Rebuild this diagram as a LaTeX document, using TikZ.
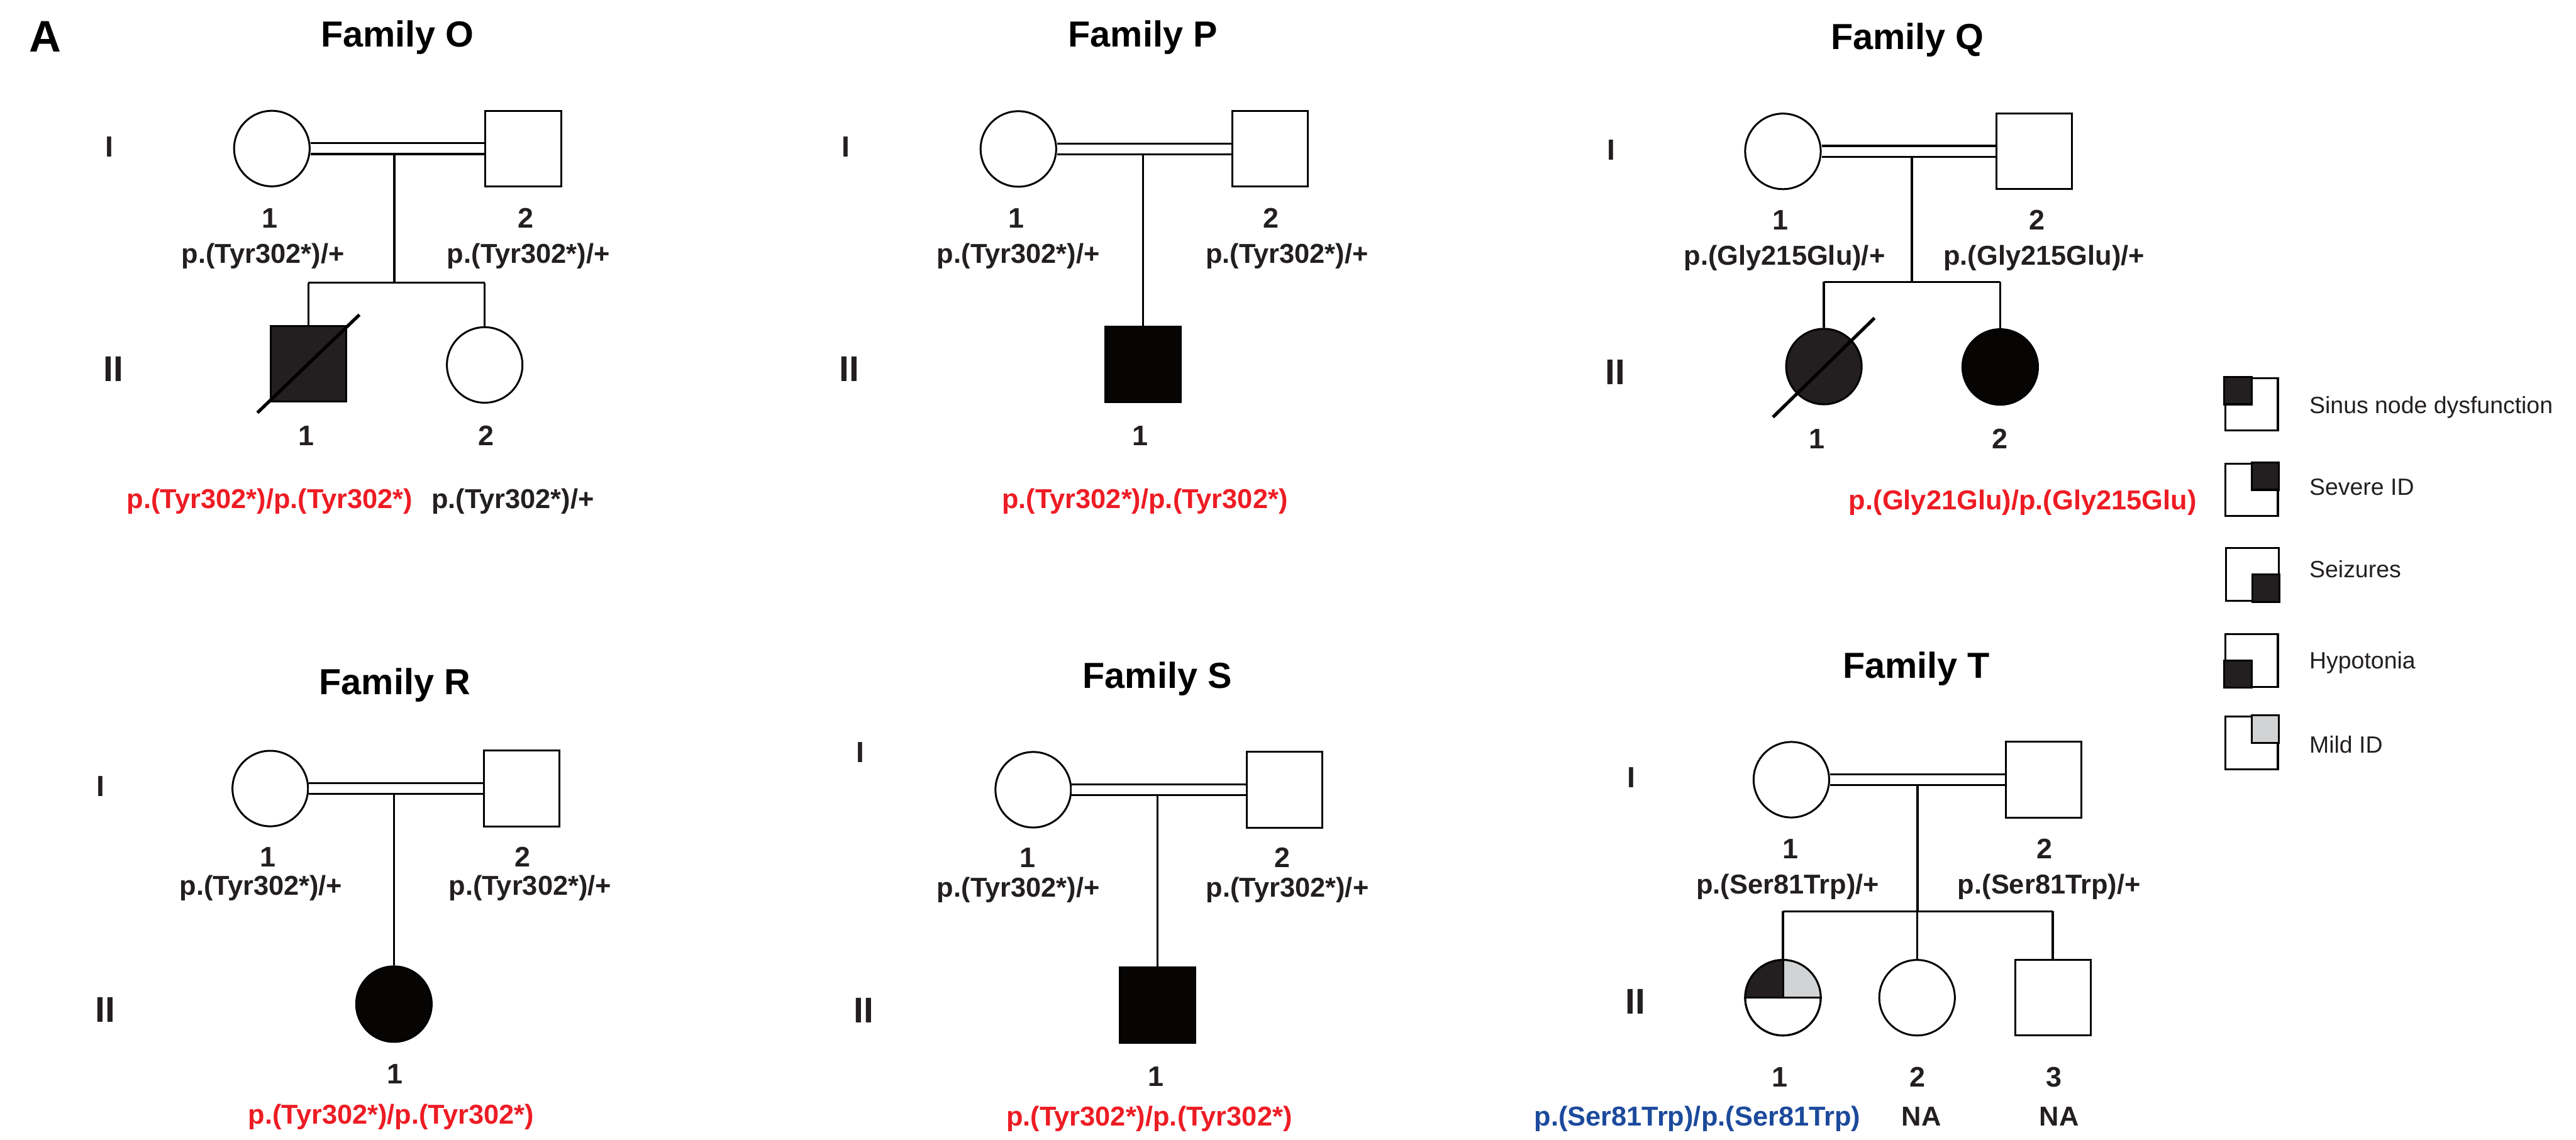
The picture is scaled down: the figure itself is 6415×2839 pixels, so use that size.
\documentclass[tikz,border=0pt]{standalone}
\usepackage{fontspec}
\setmainfont{Liberation Sans}
\usetikzlibrary{calc}
\definecolor{ink}{HTML}{231F20}
\definecolor{darkfill}{HTML}{231F20}
\definecolor{solid}{HTML}{060504}
\definecolor{mildgray}{HTML}{D1D3D4}
\definecolor{varred}{HTML}{ED1C24}
\definecolor{varblue}{HTML}{1C4A9C}

\begin{document}
\begin{tikzpicture}[x=0.006cm, y=-0.006cm,
  sym/.style={draw=black, line width=0.8pt, fill=white, inner sep=0pt, minimum size=1.128cm},
  male/.style={sym, rectangle},
  female/.style={sym, circle},
  affsolid/.style={fill=solid},
  affdark/.style={fill=darkfill},
  conn/.style={draw=black, line width=0.9pt},
  mate/.style={conn, double=white, double distance=3.7pt},
  slash/.style={draw=black, line width=1.4pt},
  idx/.style={font=\bfseries\fontsize{12}{14}\selectfont, text=ink, anchor=base, inner sep=0pt},
  geno/.style={font=\bfseries\fontsize{11.6}{14}\selectfont, text=ink, anchor=base, inner sep=0pt},
  hom/.style={geno, text=varred},
  homblue/.style={geno, text=varblue},
  famtitle/.style={font=\bfseries\fontsize{15.4}{18}\selectfont, text=black, anchor=base, inner sep=0pt},
  genI/.style={font=\bfseries\fontsize{12.4}{15}\selectfont, text=ink, anchor=base, inner sep=0pt},
  genII/.style={font=\bfseries\fontsize{15.2}{18}\selectfont, text=ink, anchor=base, inner sep=0pt},
  panel/.style={font=\bfseries\fontsize{18.8}{22}\selectfont, text=black, anchor=base, inner sep=0pt},
  key/.style={rectangle, draw=black, line width=0.85pt, fill=white, minimum size=0.786cm, inner sep=0pt},
  keyq/.style={draw=black, line width=0.85pt},
  keytext/.style={font=\fontsize{10}{12}\selectfont, text=ink, anchor=base west, inner sep=0pt}
]
\useasboundingbox (0,0) rectangle (6415,2839);

\node[panel] (lbA) at (113,129) {A};

% ---------------- Family O ----------------
\node[famtitle] (tO) at (990,117) {Family O};
\node[genI]  (gOI)  at (273,390) {I};
\node[genII] (gOII) at (283,950) {II};
\node[female] (o1) at (677,370) {};
\node[male]   (o2) at (1303,370) {};
\node[male, affdark] (o3) at (768,906) {};
\node[female] (o4) at (1207,909) {};
\coordinate (om) at (982,370);
\coordinate (os) at (982,704);
\draw[conn] (om) -- (os);
\draw[mate] (o1) -- (o2);
\draw[conn] (o3 |- os) -- (o4 |- os);
\draw[conn] (o3 |- os) -- (o3.north);
\draw[conn] (o4 |- os) -- (o4.north);
\draw[slash] ($(o3.center)+(-127,122)$) -- ($(o3.center)+(127,-122)$);
\node[idx] (o1n) at (672,567) {1};
\node[idx] (o2n) at (1309,567) {2};
\node[geno] (o1g) at (655,656) {p.(Tyr302*)/+};
\node[geno] (o2g) at (1316,656) {p.(Tyr302*)/+};
\node[idx] (o3n) at (762,1110) {1};
\node[idx] (o4n) at (1210,1110) {2};
\node[hom] (o3g) at (672,1266) {p.(Tyr302*)/p.(Tyr302*)};
\node[geno] (o4g) at (1277,1266) {p.(Tyr302*)/+};

% ---------------- Family P ----------------
\node[famtitle] (tP) at (2846,117) {Family P};
\node[genI]  (gPI)  at (2107,390) {I};
\node[genII] (gPII) at (2115,950) {II};
\node[female] (p1) at (2536,371) {};
\node[male]   (p2) at (3163,371) {};
\node[male, affsolid] (p3) at (2846,907) {};
\coordinate (pm) at (2846,371);
\draw[conn] (pm) -- (p3.north);
\draw[mate] (p1) -- (p2);
\node[idx] (p1n) at (2531,567) {1};
\node[idx] (p2n) at (3165,567) {2};
\node[geno] (p1g) at (2536,656) {p.(Tyr302*)/+};
\node[geno] (p2g) at (3205,656) {p.(Tyr302*)/+};
\node[idx] (p3n) at (2840,1110) {1};
\node[hom] (p3g) at (2851,1266) {p.(Tyr302*)/p.(Tyr302*)};

% ---------------- Family Q ----------------
\node[famtitle] (tQ) at (4750,123) {Family Q};
\node[genI]  (gQI)  at (4012,398) {I};
\node[genII] (gQII) at (4022,958) {II};
\node[female] (q1) at (4440,377) {};
\node[male]   (q2) at (5066,377) {};
\node[female, affdark]  (q3) at (4542,913) {};
\node[female, affsolid] (q4) at (4981,914) {};
\coordinate (qm) at (4761,377);
\coordinate (qs) at (4761,702);
\draw[conn] (qm) -- (qs);
\draw[mate] (q1) -- (q2);
\draw[conn] (q3 |- qs) -- (q4 |- qs);
\draw[conn] (q3 |- qs) -- (q3.north);
\draw[conn] (q4 |- qs) -- (q4.north);
\draw[slash] ($(q3.center)+(-127,126)$) -- ($(q3.center)+(126,-121)$);
\node[idx] (q1n) at (4434,573) {1};
\node[idx] (q2n) at (5073,573) {2};
\node[geno] (q1g) at (4444,660) {p.(Gly215Glu)/+};
\node[geno] (q2g) at (5090,660) {p.(Gly215Glu)/+};
\node[idx] (q3n) at (4525,1117) {1};
\node[idx] (q4n) at (4981,1117) {2};
\node[hom] (q4g) at (5037,1269) {p.(Gly21Glu)/p.(Gly215Glu)};

% ---------------- Family R ----------------
\node[famtitle] (tR) at (983,1730) {Family R};
\node[genI]  (gRI)  at (250,1984) {I};
\node[genII] (gRII) at (262,2546) {II};
\node[female] (r1) at (673,1964) {};
\node[male]   (r2) at (1299,1964) {};
\node[female, affsolid] (r3) at (981,2501) {};
\coordinate (rm) at (981,1964);
\draw[conn] (rm) -- (r3.north);
\draw[mate] (r1) -- (r2);
\node[idx] (r1n) at (667,2159) {1};
\node[idx] (r2n) at (1302,2159) {2};
\node[geno] (r1g) at (650,2230) {p.(Tyr302*)/+};
\node[geno] (r2g) at (1320,2230) {p.(Tyr302*)/+};
\node[idx] (r3n) at (983,2700) {1};
\node[hom] (r3g) at (974,2800) {p.(Tyr302*)/p.(Tyr302*)};

% ---------------- Family S ----------------
\node[famtitle] (tS) at (2882,1714) {Family S};
\node[genI]  (gSI)  at (2142,1899) {I};
\node[genII] (gSII) at (2151,2547) {II};
\node[female] (s1) at (2573,1967) {};
\node[male]   (s2) at (3199,1967) {};
\node[male, affsolid] (s3) at (2882,2503) {};
\coordinate (sm) at (2882,1967);
\draw[conn] (sm) -- (s3.north);
\draw[mate] (s1) -- (s2);
\node[idx] (s1n) at (2559,2161) {1};
\node[idx] (s2n) at (3193,2161) {2};
\node[geno] (s1g) at (2536,2234) {p.(Tyr302*)/+};
\node[geno] (s2g) at (3206,2234) {p.(Tyr302*)/+};
\node[idx] (s3n) at (2879,2705) {1};
\node[hom] (s3g) at (2862,2804) {p.(Tyr302*)/p.(Tyr302*)};

% ---------------- Family T ----------------
\node[famtitle] (tT) at (4772,1689) {Family T};
\node[genI]  (gTI)  at (4062,1961) {I};
\node[genII] (gTII) at (4073,2525) {II};
\node[female] (t1) at (4461,1942) {};
\node[male]   (t2) at (5089,1942) {};
\node[female] (t3) at (4440,2485) {};
\node[female] (t4) at (4774,2485) {};
\node[male]   (t5) at (5112,2485) {};
% quarter shading of II-1
\begin{scope}
  \clip (t3.center) circle[radius=0.564cm];
  \fill[darkfill] (t3.center) rectangle ([shift={(-0.6cm,0.6cm)}]t3.center);
  \fill[mildgray] (t3.center) rectangle ([shift={(0.6cm,0.6cm)}]t3.center);
\end{scope}
\draw[line width=0.95pt] (t3.west) -- (t3.east);
\draw[line width=0.8pt] (t3.north) -- (t3.center);
\draw[line width=0.8pt] (t3.center) circle[radius=0.564cm];
\coordinate (tm) at (4775,1942);
\coordinate (ts) at (4775,2270);
\draw[conn] (tm) -- (ts);
\draw[mate] (t1) -- (t2);
\draw[conn] (t3 |- ts) -- (t5 |- ts);
\draw[conn] (t3 |- ts) -- (t3.north);
\draw[conn] (t4 |- ts) -- (t4.north);
\draw[conn] (t5 |- ts) -- (t5.north);
\node[idx] (t1n) at (4458,2138) {1};
\node[idx] (t2n) at (5091,2138) {2};
\node[geno] (t1g) at (4452,2226) {p.(Ser81Trp)/+};
\node[geno] (t2g) at (5103,2226) {p.(Ser81Trp)/+};
\node[idx] (t3n) at (4432,2707) {1};
\node[idx] (t4n) at (4775,2707) {2};
\node[idx] (t5n) at (5115,2707) {3};
\node[homblue] (t3g) at (4227,2804) {p.(Ser81Trp)/p.(Ser81Trp)};
\node[geno] (t4g) at (4785,2804) {NA};
\node[geno] (t5g) at (5128,2804) {NA};

% ---------------- Key ----------------
\node[key] (k1) at (5607,1007) {};
\draw[keyq, fill=darkfill] (k1.north west) rectangle (k1.center);
\node[keytext] (k1t) at (5750,1030) {Sinus node dysfunction};
\node[key] (k2) at (5607,1220) {};
\draw[keyq, fill=darkfill] (k2.north east) rectangle (k2.center);
\node[keytext] (k2t) at (5750,1234) {Severe ID};
\node[key] (k3) at (5609,1431) {};
\draw[keyq, fill=darkfill] (k3.south east) rectangle (k3.center);
\node[keytext] (k3t) at (5750,1439) {Seizures};
\node[key] (k4) at (5607,1645) {};
\draw[keyq, fill=darkfill] (k4.south west) rectangle (k4.center);
\node[keytext] (k4t) at (5750,1666) {Hypotonia};
\node[key] (k5) at (5607,1850) {};
\draw[keyq, fill=mildgray] (k5.north east) rectangle (k5.center);
\node[keytext] (k5t) at (5750,1876) {Mild ID};
\end{tikzpicture}
\end{document}
